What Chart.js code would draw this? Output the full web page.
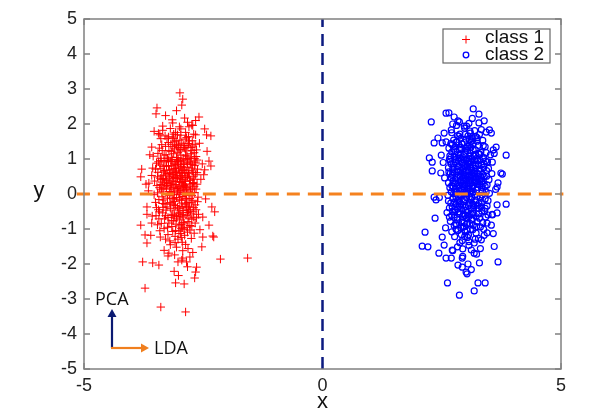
<!DOCTYPE html>
<html><head><meta charset="utf-8">
<script src="https://cdn.jsdelivr.net/npm/chart.js@4/dist/chart.umd.min.js"></script>
<style>html,body{margin:0;padding:0;background:#fff}#wrap{width:604px;height:414px}</style>
</head><body><div id="wrap"><canvas id="c" width="604" height="414"></canvas></div>
<script>
const xTicks = [-5, 0, 5];
const yTicks = [-5,-4,-3,-2,-1,0,1,2,3,4,5];
const seriesNames = ["class 1", "class 2"];
const class1 = [
[-2.99,2.89],[-2.93,2.71],[-2.95,2.54],[-3.47,2.46],[-3.49,2.29],[-3.35,1.94],[-2.59,2.2],[-2.47,1.86],[-2.34,1.66],[-2.87,-3.37],[-3.39,-3.23],[-3.72,-2.69],[-3.77,-1.94],[-2.14,-1.86],[-3.08,-2.54],[-2.66,-2.23],[-2.68,-2.4],[-3.81,-0.89],[-3.79,0.71],[-3.81,0.49],[-2.28,-1.23],[-2.26,-0.51],[-2.34,0.8],[-1.57,-1.83],
[-2.38,0.94],[-2.47,0.69],[-3.14,2.03],[-2.89,2.17],[-2.74,1.97],[-2.66,1.69],[-2.43,1.69],[-3.41,1.69],[-3.58,1.34],[-3.56,0.74],[-3.64,0.31],[-3.68,-0.37],[-3.58,-0.83],[-3.72,-1.17],[-3.68,-1.4],[-3.56,-1.97],[-3.43,-2.03],[-3.22,-1.69],[-3.10,-1.74],[-3.03,-1.94],[-2.95,-1.89],[-2.85,-1.94],[-2.78,-1.8],[-2.64,-2.09],[-2.53,-1.51],[-2.51,-1.23],[-2.38,-0.89],[-2.3,-1.2],[-2.51,-0.66],[-2.32,-0.37],
[-3.12,0.45],[-2.88,-0.12],[-3.25,1.02],[-2.95,0.78],[-3.05,-0.64],[-2.71,0.33],[-3.38,0.12],[-3.02,1.41],[-2.84,-0.95],[-3.18,-0.28],
[-2.92,0.05],[-3.31,0.67],[-2.76,1.15],[-3.09,-1.21],[-2.98,0.92],[-3.44,-0.45],[-2.67,-0.31],[-3.15,1.63],[-2.81,0.58],[-3.22,-0.83],
[-3.01,0.21],[-2.89,1.33],[-3.36,1.24],[-2.74,-0.72],[-3.11,-0.02],[-3.48,0.88],[-2.63,0.97],[-3.06,0.63],[-2.94,-1.38],[-3.27,0.39],
[-2.85,0.18],[-3.19,1.87],[-2.99,-0.41],[-3.41,-1.05],[-2.79,1.52],[-3.08,0.84],[-2.69,-1.12],[-3.33,-0.17],[-2.91,0.71],[-3.14,-0.58],
[-3.03,1.18],[-2.82,-0.24],[-3.29,0.54],[-2.73,0.66],[-3.17,0.29],[-2.96,-0.87],[-3.52,0.37],[-2.87,1.76],[-3.06,-1.52],[-2.65,0.14],
[-3.23,0.96],[-2.93,0.41],[-3.39,1.58],[-2.77,-0.49],[-3.1,1.29],[-3.0,-0.15],[-2.83,0.89],[-3.46,0.03],[-2.72,1.37],[-3.2,-1.34],
[-2.97,0.12],[-3.13,0.51],[-2.86,-0.61],[-3.34,0.79],[-2.61,-0.09],[-3.04,1.69],[-2.9,-1.02],[-3.26,-0.37],[-2.78,0.26],[-3.37,1.41],
[-3.07,0.35],[-2.95,-0.26],[-3.21,0.07],[-2.68,0.81],[-3.43,-0.71],[-2.84,1.08],[-3.16,-0.93],[-2.99,1.54],[-3.3,0.23],[-2.75,-1.27],
[-3.09,0.73],[-2.88,0.47],[-3.5,-0.24],[-2.7,1.71],[-3.12,-0.14],[-2.93,-1.62],[-3.28,1.12],[-2.8,0.02],[-3.02,0.95],[-3.4,0.45],
[-2.66,0.55],[-3.14,1.36],[-2.91,-0.47],[-3.24,-1.16],[-2.86,1.23],[-3.05,0.16],[-3.35,-0.54],[-2.74,-0.04],[-3.18,0.61],[-2.97,1.86],
[-3.55,1.08],[-2.82,-0.79],[-3.08,-0.33],[-2.64,1.26],[-3.31,0.31],[-2.94,0.67],[-3.19,-1.45],[-2.78,0.94],[-3.45,0.62],[-3.01,-0.91],
[-2.89,0.28],[-3.23,1.47],[-2.72,-0.18],[-3.11,0.88],[-2.98,-1.13],[-3.36,-0.08],[-2.85,1.61],[-3.06,-0.69],[-2.69,0.42],[-3.27,0.81],
[-3.13,0.19],[-2.92,1.02],[-3.42,1.31],[-2.76,-0.57],[-3.04,0.44],[-2.87,-1.44],[-3.2,0.34],[-2.62,0.71],[-3.32,-0.99],[-2.96,0.58],
[-3.1,-0.21],[-2.81,1.44],[-3.48,-0.39],[-2.73,0.17],[-3.16,1.05],[-2.99,-0.52],[-3.25,-0.12],[-2.84,0.76],[-3.38,0.96],[-3.03,-1.29],
[-2.9,0.09],[-3.21,0.69],[-2.67,-0.83],[-3.07,1.52],[-2.95,0.33],[-3.34,0.15],[-2.79,-0.35],[-3.12,-0.77],[-2.88,1.29],[-3.44,1.73],
[-3.0,0.61],[-2.75,1.03],[-3.29,-0.62],[-2.93,-0.07],[-3.17,1.21],[-2.83,-1.09],[-3.53,-0.02],[-2.71,0.49],[-3.09,0.27],[-2.97,1.11],
[-3.22,0.43],[-2.86,-0.28],[-3.4,-1.23],[-2.65,-0.45],[-3.05,0.83],[-2.92,-0.81],[-3.3,1.66],[-2.77,0.39],[-3.14,-1.07],[-3.01,0.03],
[-2.8,1.92],[-3.37,0.52],[-2.94,-0.36],[-3.18,0.93],[-2.7,-0.66],[-3.26,0.24],[-3.08,1.76],[-2.89,0.62],[-3.46,-0.88],[-2.74,1.24],
[-3.11,-0.46],[-2.98,0.77],[-3.33,0.44],[-2.82,-1.56],[-3.04,0.09],[-2.68,1.01],[-3.2,-0.24],[-2.91,1.39],[-3.42,0.18],[-2.85,-0.14],
[-3.15,0.56],[-2.96,-0.98],[-3.28,-0.46],[-2.63,0.28],[-3.06,1.04],[-2.87,0.22],[-3.39,0.72],[-2.78,-0.9],[-3.13,1.59],[-3.0,-0.74],
[-3.58,0.53],[-2.6,-0.58],[-3.57,-0.63],[-2.58,1.45],[-3.62,1.12],[-2.55,0.42],[-3.6,-1.18],[-2.57,-1.02],[-3.65,0.09],[-2.52,0.86],
[-3.24,-1.77],[-2.83,-2.08],[-3.11,-2.21],[-2.93,-1.83],[-3.32,-1.61],[-2.72,-1.67],[-3.02,-2.33],[-2.9,-2.57],[-3.15,2.12],[-2.83,2.05],
[-3.29,2.24],[-3.06,2.38],[-2.72,1.96],[-2.66,2.1],[-3.53,1.79],[-2.42,1.22],[-2.45,-0.14],[-2.49,0.55],[-3.7,0.28],[-3.68,-0.58],
[-3.21,0.58],[-2.9,0.84],[-3.04,-0.38],[-2.77,0.12],[-3.35,-0.27],[-2.98,1.27],[-3.16,0.14],[-2.83,-0.53],[-3.41,0.83],[-2.69,1.18],
[-3.07,-0.86],[-2.94,0.53],[-3.29,1.36],[-2.74,-0.92],[-3.12,1.71],[-2.87,0.36],[-3.47,0.24],[-2.62,-0.22],[-3.02,0.74],[-3.24,-0.67],
[-2.81,1.64],[-3.36,0.41],[-2.96,-0.18],[-3.15,0.98],[-2.71,0.61],[-3.09,-1.39],[-2.86,0.99],[-3.43,-0.16],[-3.0,0.36],[-2.78,-0.13],
[-3.26,1.58],[-2.92,-0.66],[-3.13,0.71],[-2.67,1.42],[-3.38,-0.84],[-3.05,0.52],[-2.84,0.14],[-3.19,-0.41],[-2.97,1.68],[-3.32,0.95],
[-2.73,0.84],[-3.11,0.06],[-2.89,-1.18],[-3.27,0.17],[-2.64,-0.68],[-3.03,1.33],[-2.91,0.24],[-3.45,1.16],[-2.79,0.45],[-3.17,-0.61],
[-2.99,-0.02],[-3.33,0.63],[-2.76,1.33],[-3.08,0.61],[-2.85,-0.38],[-3.22,1.24],[-2.95,0.95],[-3.5,0.71],[-2.7,-0.39],[-3.14,0.37],
[-2.88,1.57],[-3.3,-0.29],[-3.01,-1.06],[-2.8,0.68],[-3.18,1.42],[-2.93,0.19],[-3.39,0.27],[-2.66,0.91],[-3.06,-0.1],[-3.23,0.79],
[-2.82,1.01],[-3.1,-0.62],[-2.97,0.43],[-3.35,1.82],[-2.75,-0.25],[-3.2,0.49],[-2.9,-0.83],[-3.04,0.92],[-3.42,-0.51],[-2.68,0.04],
[-3.15,-0.12],[-2.86,0.61],[-3.28,0.92],[-2.99,1.23],[-2.72,0.3],[-3.12,1.15],[-2.93,-0.97],[-3.37,0.06],[-2.8,-0.69],[-3.07,0.26],
[-3.25,-0.95],[-2.84,1.38],[-3.02,-0.55],[-3.46,0.49],[-2.63,0.61],[-3.17,0.81],[-2.95,1.45],[-3.31,-0.71],[-2.77,0.88],[-3.09,0.47],
[-2.88,-0.31],[-3.21,-0.04],[-3.0,1.92],[-2.71,-0.51],[-3.4,1.02],[-3.13,-0.31],[-2.83,0.51],[-3.26,0.58],[-2.96,-1.24],[-3.06,1.38],
[-2.74,0.74],[-3.34,-0.38],[-2.91,0.86],[-3.18,0.04],[-2.86,-0.04],[-3.49,-0.62],[-2.65,1.07],[-3.03,0.15],[-3.23,1.63],[-2.78,-1.03],
[-3.11,0.66],[-2.94,-0.59],[-3.36,0.34],[-2.69,0.22],[-3.08,-1.04],[-2.87,1.11],[-3.19,0.23],[-2.98,0.49],[-3.29,-1.29],[-2.81,-0.45],
[-3.05,0.99],[-3.44,0.92],[-2.73,1.52],[-3.16,-0.76],[-2.92,0.29],[-3.32,1.11],[-2.76,0.05],[-3.1,1.49],[-2.97,-0.63],[-3.24,0.31]
];
const class2 = [
[3.16,2.43],[2.59,2.31],[2.65,2.32],[2.28,2.06],[3.85,1.11],[2.34,1.46],[2.24,1.03],[2.3,0.66],[3.77,0.57],[3.85,-0.29],[2.15,-1.09],[2.09,-1.49],[2.21,-1.51],[2.44,-1.69],[3.68,-1.94],[3.01,-2.23],[3.29,-1.97],[2.62,-2.54],[2.87,-2.89],[3.18,-2.77],[3.26,-2.54],[3.41,-2.54],
[3.28,2.03],[3.39,2.09],[3.54,1.74],[3.64,1.34],[2.76,2.2],[2.87,2.06],[2.97,1.94],[2.70,1.83],[2.55,1.74],[2.51,1.46],[2.49,1.11],[2.30,0.91],[3.56,0.91],[3.74,0.6],[3.66,0.2],[3.66,-0.31],[3.56,-0.6],[3.54,-0.89],[3.45,-1.11],[3.33,-1.31],[3.18,-1.69],[3.12,-1.6],[2.93,-1.83],[2.72,-1.6],[2.51,-1.23],[2.36,-0.69],[2.38,-0.17],[2.34,-0.09],[2.59,-1.83],[2.7,-1.83],[2.93,-2.09],[3.05,-2.0],[2.55,-1.46],
[3.08,0.52],[2.87,-0.21],[3.21,1.14],[2.96,0.83],[3.12,-0.58],[2.74,0.38],[3.35,0.07],[3.03,1.36],[2.81,-0.88],[3.17,-0.33],
[2.94,0.11],[3.28,0.72],[2.79,1.21],[3.06,-1.17],[3.01,0.97],[3.41,-0.41],[2.69,-0.26],[3.14,1.58],[2.84,0.63],[3.24,-0.79],
[2.99,0.26],[2.91,1.29],[3.32,1.19],[2.76,-0.67],[3.1,0.03],[3.46,0.92],[2.66,0.99],[3.05,0.68],[2.93,-1.33],[3.26,0.42],
[2.86,0.23],[3.19,1.81],[3.0,-0.36],[3.38,-1.01],[2.8,1.48],[3.09,0.89],[2.71,-1.08],[3.31,-0.12],[2.92,0.76],[3.15,-0.54],
[3.04,1.23],[2.83,-0.19],[3.27,0.57],[2.73,0.71],[3.18,0.33],[2.97,-0.82],[3.49,0.41],[2.88,1.71],[3.07,-1.47],[2.67,0.18],
[3.22,1.01],[2.95,0.46],[3.36,1.53],[2.78,-0.44],[3.11,1.33],[3.02,-0.11],[2.85,0.94],[3.43,0.06],[2.72,1.41],[3.2,-1.29],
[2.98,0.15],[3.13,0.55],[2.87,-0.56],[3.33,0.83],[2.63,-0.04],[3.05,1.66],[2.9,-0.97],[3.25,-0.32],[2.79,0.31],[3.37,1.38],
[3.08,0.39],[2.96,-0.22],[3.23,0.11],[2.7,0.86],[3.42,-0.66],[2.85,1.12],[3.16,-0.89],[3.0,1.57],[3.29,0.27],[2.77,-1.22],
[3.1,0.77],[2.89,0.51],[3.47,-0.19],[2.71,1.75],[3.13,-0.09],[2.94,-1.57],[3.27,1.16],[2.81,0.06],[3.03,0.99],[3.39,0.49],
[2.68,0.59],[3.15,1.4],[2.92,-0.43],[3.22,-1.12],[2.87,1.27],[3.06,0.2],[3.34,-0.49],[2.75,0.01],[3.19,0.65],[2.98,1.88],
[3.52,1.12],[2.83,-0.74],[3.09,-0.29],[2.65,1.31],[3.3,0.36],[2.95,0.71],[3.18,-1.4],[2.79,0.98],[3.44,0.67],[3.02,-0.86],
[2.9,0.32],[3.24,1.51],[2.73,-0.13],[3.12,0.92],[2.99,-1.08],[3.35,-0.03],[2.86,1.65],[3.07,-0.64],[2.7,0.46],[3.26,0.85],
[3.14,0.24],[2.93,1.06],[3.41,1.35],[2.77,-0.52],[3.05,0.48],[2.88,-1.39],[3.21,0.38],[2.64,0.75],[3.31,-0.94],[2.97,0.62],
[3.11,-0.16],[2.82,1.48],[3.45,-0.34],[2.74,0.21],[3.17,1.09],[3.0,-0.47],[3.24,-0.07],[2.85,0.8],[3.37,1.0],[3.04,-1.24],
[2.91,0.13],[3.2,0.73],[2.68,-0.78],[3.08,1.56],[2.96,0.37],[3.33,0.19],[2.8,-0.3],[3.13,-0.72],[2.89,1.33],[3.43,1.77],
[3.01,0.65],[2.76,1.07],[3.28,-0.57],[2.94,-0.02],[3.16,1.25],[2.84,-1.04],[3.5,0.02],[2.72,0.53],[3.1,0.31],[2.98,1.15],
[3.21,0.47],[2.87,-0.23],[3.39,-1.18],[2.66,-0.4],[3.06,0.87],[2.93,-0.76],[3.29,1.7],[2.78,0.43],[3.15,-1.02],[3.02,0.08],
[2.81,1.96],[3.36,0.56],[2.95,-0.31],[3.19,0.97],[2.71,-0.61],[3.25,0.28],[3.09,1.8],[2.9,0.66],[3.45,-0.83],[2.75,1.28],
[3.12,-0.41],[2.99,0.81],[3.32,0.48],[2.83,-1.51],[3.05,0.13],[2.69,1.05],[3.21,-0.19],[2.92,1.43],[3.41,0.22],[2.86,-0.09],
[3.16,0.6],[2.97,-0.93],[3.27,-0.41],[2.64,0.32],[3.07,1.08],[2.88,0.26],[3.38,0.76],[2.79,-0.85],[3.14,1.63],[3.01,-0.69],
[3.55,0.58],[2.61,-0.53],[3.56,-0.58],[2.59,1.49],[3.6,1.16],[2.56,0.46],[3.58,-1.13],[2.58,-0.97],[3.63,0.13],[2.53,0.9],
[3.23,-1.72],[2.84,-2.03],[3.12,-2.16],[2.94,-1.78],[3.31,-1.56],[2.73,-1.62],[3.03,-2.28],[3.14,2.16],[2.84,2.09],[3.28,2.28],
[3.07,2.02],[2.73,2.0],[3.5,1.83],[3.58,1.26],[2.45,-0.1],[2.48,0.6],[3.68,0.32],[3.66,-0.54],[2.42,1.6],[3.6,-1.5],
[3.19,0.58],[2.92,0.88],[3.06,-0.34],[2.79,0.14],[3.33,-0.24],[3.0,1.31],[3.14,0.16],[2.85,-0.51],[3.39,0.86],[2.71,1.2],
[3.09,-0.84],[2.96,0.55],[3.27,1.39],[2.76,-0.9],[3.1,1.74],[2.89,0.38],[3.45,0.26],[2.64,-0.2],[3.04,0.77],[3.22,-0.65],
[2.83,1.67],[3.34,0.43],[2.98,-0.16],[3.13,1.0],[2.73,0.63],[3.07,-1.36],[2.88,1.02],[3.41,-0.14],[3.02,0.38],[2.8,-0.11],
[3.24,1.61],[2.94,-0.64],[3.11,0.73],[2.69,1.44],[3.36,-0.82],[3.03,0.54],[2.86,0.16],[3.17,-0.39],[2.99,1.7],[3.3,0.97],
[2.75,0.86],[3.09,0.08],[2.91,-1.16],[3.25,0.19],[2.66,-0.66],[3.05,1.35],[2.93,0.26],[3.43,1.18],[2.81,0.47],[3.15,-0.59],
[3.01,0.0],[3.31,0.65],[2.78,1.35],[3.06,0.63],[2.87,-0.36],[3.2,1.26],[2.97,0.97],[3.48,0.73],[2.72,-0.37],[3.12,0.39],
[2.9,1.59],[3.28,-0.27],[3.03,-1.04],[2.82,0.7],[3.16,1.44],[2.95,0.21],[3.37,0.29],[2.68,0.93],[3.08,-0.08],[3.21,0.81],
[2.84,1.03],[3.08,-0.6],[2.99,0.45],[3.33,1.84],[2.77,-0.23],[3.18,0.51],[2.92,-0.81],[3.06,0.94],[3.4,-0.49],[2.7,0.06],
[3.13,-0.1],[2.88,0.63],[3.26,0.94],[3.01,1.25],[2.74,0.32],[3.1,1.17],[2.95,-0.95],[3.35,0.08],[2.82,-0.67],[3.09,0.28],
[3.23,-0.93],[2.86,1.4],[3.04,-0.53],[3.44,0.51],[2.65,0.63],[3.15,0.83],[2.97,1.47],[3.29,-0.69],[2.79,0.9],[3.11,0.49],
[2.9,-0.29],[3.19,-0.02],[3.02,1.94],[2.73,-0.49],[3.38,1.04],[3.15,-0.29],[2.85,0.53],[3.24,0.6],[2.98,-1.22],[3.08,1.4],
[2.76,0.76],[3.32,-0.36],[2.93,0.88],[3.16,0.06],[2.88,-0.02],[3.47,-0.6],[2.67,1.09],[3.05,0.17],[3.21,1.65],[2.8,-1.01],
[3.13,0.68],[2.96,-0.57],[3.34,0.36],[2.71,0.24],[3.1,-1.02],[2.89,1.13],[3.17,0.25],[3.0,0.51],[3.27,-1.27],[2.83,-0.43],
[3.07,1.01],[3.42,0.94],[2.75,1.54],[3.14,-0.74],[2.94,0.31],[3.3,1.13],[2.78,0.07],[3.12,1.51],[2.99,-0.61],[3.22,0.33]
];
const ldaLine = [[-5.15,0],[5.05,0]];
const pcaLine = [[0,-5],[0,5]];
const toPts = a => a.map(p => ({x:p[0], y:p[1]}));

const FONT = "'Liberation Sans', Arial, Helvetica, sans-serif";
const AX = '#808080';

const decor = {
  id: 'decor',
  beforeDatasetsDraw(chart) {
    const {ctx, chartArea:a, scales:{x, y}} = chart;
    ctx.save();
    ctx.strokeStyle = AX; ctx.lineWidth = 1.3;
    const L = 6;
    ctx.beginPath();
    yTicks.forEach(v => { const py = y.getPixelForValue(v);
      ctx.moveTo(a.left, py); ctx.lineTo(a.left+L, py);
      ctx.moveTo(a.right, py); ctx.lineTo(a.right-L, py); });
    xTicks.forEach(v => { const px = x.getPixelForValue(v);
      ctx.moveTo(px, a.bottom); ctx.lineTo(px, a.bottom-L);
      ctx.moveTo(px, a.top); ctx.lineTo(px, a.top+L); });
    ctx.stroke();
    ctx.restore();
  },
  afterDatasetsDraw(chart) {
    const {ctx, chartArea:a, scales:{x, y}} = chart;
    ctx.save();
    ctx.strokeStyle = AX; ctx.lineWidth = 1.5;
    ctx.strokeRect(a.left, a.top, a.right-a.left, a.bottom-a.top);
    ctx.fillStyle = '#111'; ctx.font = "22px " + FONT;
    ctx.textAlign = 'center'; ctx.textBaseline = 'middle';
    ctx.fillText('x', x.getPixelForValue(0), 402);
    ctx.fillText('y', 39, y.getPixelForValue(0) - 3);
    // legend
    const lx = 443, ly = 29, lw = 107, lh = 34;
    ctx.fillStyle = '#fff'; ctx.fillRect(lx, ly, lw, lh);
    ctx.strokeStyle = '#666'; ctx.lineWidth = 1.2; ctx.strokeRect(lx, ly, lw, lh);
    ctx.strokeStyle = '#ff0000'; ctx.lineWidth = 1;
    ctx.beginPath(); ctx.moveTo(462, 39.5); ctx.lineTo(470, 39.5); ctx.moveTo(466, 35.5); ctx.lineTo(466, 43.5); ctx.stroke();
    ctx.strokeStyle = '#0000ff'; ctx.lineWidth = 1.3;
    ctx.beginPath(); ctx.arc(466, 55, 2.8, 0, Math.PI*2); ctx.stroke();
    ctx.fillStyle = '#111'; ctx.font = "19px " + FONT; ctx.textAlign = 'left';
    ctx.fillText(seriesNames[0], 485, 38);
    ctx.fillText(seriesNames[1], 485, 55);
    // PCA / LDA arrows
    const ox = 112, oy = 348;
    ctx.lineWidth = 2.2;
    ctx.strokeStyle = '#0b1a72'; ctx.fillStyle = '#0b1a72';
    ctx.beginPath(); ctx.moveTo(ox, oy); ctx.lineTo(ox, 316); ctx.stroke();
    ctx.beginPath(); ctx.moveTo(ox-4.5, 317); ctx.lineTo(ox+4.5, 317); ctx.lineTo(ox, 309); ctx.closePath(); ctx.fill();
    ctx.strokeStyle = '#f07f1e'; ctx.fillStyle = '#f07f1e';
    ctx.beginPath(); ctx.moveTo(ox-1, oy); ctx.lineTo(142, oy); ctx.stroke();
    ctx.beginPath(); ctx.moveTo(141, oy-4.5); ctx.lineTo(141, oy+4.5); ctx.lineTo(149, oy); ctx.closePath(); ctx.fill();
    ctx.fillStyle = '#111'; ctx.font = "18px 'Open Sans', 'Noto Sans', sans-serif";
    ctx.textAlign = 'left'; ctx.textBaseline = 'middle';
    ctx.fillText('PCA', 95, 300);
    ctx.fillText('LDA', 154, 349);
    ctx.restore();
  }
};

new Chart(document.getElementById('c'), {
  type: 'scatter',
  data: { datasets: [
    { type:'line', data: toPts(ldaLine), borderColor:'#f5821f', borderWidth:3, borderDash:[13,8],
      pointRadius:0, fill:false, clip:false, order:0 },
    { type:'line', data: toPts(pcaLine), borderColor:'#0b1a80', borderWidth:2.5, borderDash:[12,7],
      pointRadius:0, fill:false, clip:false, order:1 },
    { label: seriesNames[0], data: toPts(class1), pointStyle:'cross', pointRadius:4.2,
      borderColor:'#ff0000', borderWidth:1, backgroundColor:'#ff0000', order:3 },
    { label: seriesNames[1], data: toPts(class2), pointStyle:'circle', pointRadius:3,
      borderColor:'#0000ff', borderWidth:1.2, backgroundColor:'rgba(0,0,0,0)', order:2 }
  ]},
  options: {
    responsive:false, animation:false, devicePixelRatio:1,
    layout:{ padding:{ top:19, right:43, left:0, bottom:0 } },
    plugins:{ legend:{display:false}, tooltip:{enabled:false} },
    scales:{
      x:{ type:'linear', min:-5, max:5,
        afterBuildTicks: s => { s.ticks = xTicks.map(v => ({value:v})); },
        afterFit: s => { s.height = 45; },
        grid:{display:false, drawTicks:false}, border:{display:false},
        ticks:{ font:{family:FONT, size:18}, color:'#222', padding:6, maxRotation:0 } },
      y:{ type:'linear', min:-5, max:5,
        afterBuildTicks: s => { s.ticks = yTicks.map(v => ({value:v})); },
        afterFit: s => { s.width = 84; },
        grid:{display:false, drawTicks:false}, border:{display:false},
        ticks:{ font:{family:FONT, size:18}, color:'#222', padding:7 } }
    }
  },
  plugins:[decor]
});
</script></body></html>
